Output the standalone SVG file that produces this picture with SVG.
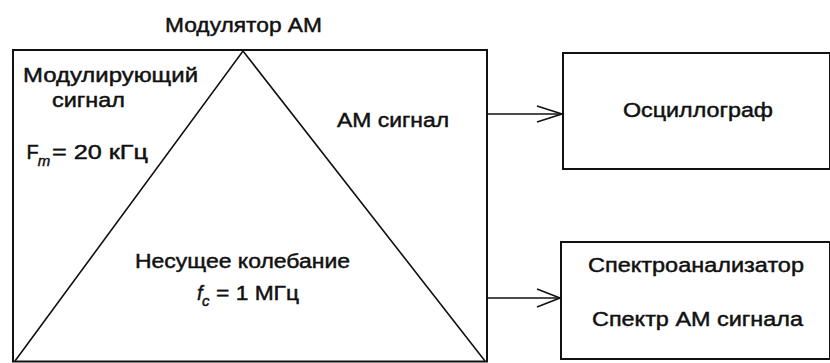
<svg xmlns="http://www.w3.org/2000/svg" width="830" height="363" viewBox="0 0 830 363">
<style>
text{font-family:"Liberation Sans",Arial,sans-serif;font-size:20px;fill:#111;stroke:#111;stroke-width:0.45}
.box{fill:#fff;stroke:#111;stroke-width:2}
.ln{fill:none;stroke:#111;stroke-width:1.6}
.it{font-style:italic}
.sub{font-size:15px}
</style>
<rect width="830" height="363" fill="#fff"/>
<g id="modulator">
<rect class="box" x="13" y="50" width="474" height="311.5"/>
<polyline class="ln" points="15,361 243,51 485,361"/>
<text x="165" y="31.5" textLength="157" lengthAdjust="spacingAndGlyphs">Модулятор АМ</text>
<text x="23" y="81.5" textLength="175" lengthAdjust="spacingAndGlyphs">Модулирующий</text>
<text x="52" y="106.5" textLength="73" lengthAdjust="spacingAndGlyphs">сигнал</text>
<text x="26.5" y="159">F<tspan class="it sub" dx="-1" dy="7">m</tspan></text>
<text x="52" y="159" textLength="96" lengthAdjust="spacingAndGlyphs">= 20 кГц</text>
<text x="337" y="127.3" textLength="112" lengthAdjust="spacingAndGlyphs">АМ сигнал</text>
<text x="135" y="267.7" textLength="215" lengthAdjust="spacingAndGlyphs">Несущее колебание</text>
<text class="it" x="197" y="300">f<tspan class="sub" dx="-0.5" dy="6">c</tspan></text>
<text x="216" y="300" textLength="83" lengthAdjust="spacingAndGlyphs">= 1 МГц</text>
</g>
<g id="oscillograph">
<rect class="box" x="563" y="53" width="267" height="116"/>
<text x="623" y="116.7" textLength="150" lengthAdjust="spacingAndGlyphs">Осциллограф</text>
</g>
<g id="spectrum">
<rect class="box" x="561" y="242" width="269" height="117"/>
<text x="588" y="271.7" textLength="216" lengthAdjust="spacingAndGlyphs">Спектроанализатор</text>
<text x="592" y="325.7" textLength="211" lengthAdjust="spacingAndGlyphs">Спектр АМ сигнала</text>
</g>
<g id="connectors">
<line class="ln" x1="488" y1="114" x2="562" y2="114"/>
<polyline class="ln" points="537,106 562,114 537,122"/>
<line class="ln" x1="488" y1="298" x2="560" y2="298"/>
<polyline class="ln" points="537,289 560,298 537,307"/>
</g>
</svg>
